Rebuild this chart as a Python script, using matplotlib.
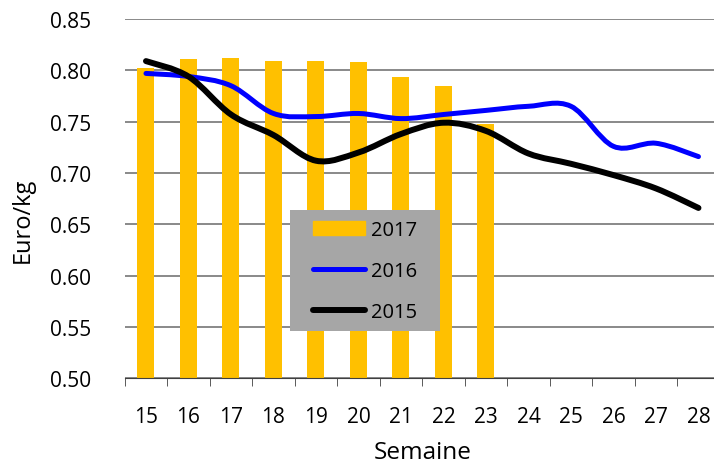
import matplotlib
matplotlib.use("Agg")
import matplotlib.pyplot as plt
from matplotlib.path import Path
from matplotlib.patches import PathPatch, Patch, Rectangle
from matplotlib.lines import Line2D

# weeks and prices (Euro/kg)
semaines = [15, 16, 17, 18, 19, 20, 21, 22, 23, 24, 25, 26, 27, 28]
prix_2017 = [0.802, 0.811, 0.812, 0.809, 0.809, 0.808, 0.794, 0.785, 0.748]
prix_2016 = [0.797, 0.794, 0.785, 0.758, 0.755, 0.758, 0.753, 0.757, 0.761,
             0.765, 0.765, 0.726, 0.729, 0.716]
prix_2015 = [0.809, 0.794, 0.757, 0.737, 0.712, 0.720, 0.738, 0.749, 0.741,
             0.719, 0.709, 0.698, 0.685, 0.666]
y_ticks = [0.50, 0.55, 0.60, 0.65, 0.70, 0.75, 0.80, 0.85]

plt.rcParams['font.family'] = ['Open Sans', 'DejaVu Sans']
plt.rcParams['font.size'] = 15


def smooth_path(xs, ys):
    # Excel-like smoothed line: cubic bezier segments through every point
    pts = list(zip(xs, ys))
    verts = [pts[0]]
    codes = [Path.MOVETO]
    n = len(pts)
    for i in range(n - 1):
        p0 = pts[i - 1] if i > 0 else pts[i]
        p1 = pts[i]
        p2 = pts[i + 1]
        p3 = pts[i + 2] if i + 2 < n else pts[i + 1]
        c1 = (p1[0] + (p2[0] - p0[0]) / 6, p1[1] + (p2[1] - p0[1]) / 6)
        c2 = (p2[0] - (p3[0] - p1[0]) / 6, p2[1] - (p3[1] - p1[1]) / 6)
        verts += [c1, c2, p2]
        codes += [Path.CURVE4] * 3
    return Path(verts, codes)


fig = plt.figure(figsize=(7.14, 4.64), dpi=100)
ax = fig.add_axes([0.1747, 0.1823, 0.8333, 0.7746])

x_idx = list(range(len(semaines)))
ax.bar(x_idx[:len(prix_2017)], prix_2017, width=0.4, color='#FFC000', zorder=2)

for vals, col, lw in [(prix_2016, '#0000FF', 3.6), (prix_2015, '#000000', 4.3)]:
    ax.add_patch(PathPatch(smooth_path(x_idx, vals), facecolor='none',
                           edgecolor=col, lw=lw, capstyle='round', zorder=3))

ax.set_xlim(-0.5, len(semaines) - 0.5)
ax.set_ylim(0.50, 0.85)
ax.set_yticks(y_ticks)
ax.set_yticklabels([f"{v:.2f}" for v in y_ticks])
ax.set_xticks(x_idx)
ax.set_xticklabels([str(s) for s in semaines])
ax.set_xticks([i - 0.5 for i in range(len(semaines) + 1)], minor=True)

ax.grid(axis='y', color='#808080', lw=1.3, zorder=1)
for s in ['left', 'right', 'top']:
    ax.spines[s].set_visible(False)
ax.spines['bottom'].set_color('#404040')
ax.tick_params(axis='y', length=0, pad=24)
ax.tick_params(axis='x', which='major', length=0, pad=20)
ax.tick_params(axis='x', which='minor', length=6, color='#404040')

ax.set_ylabel("Euro/kg", fontsize=17)
ax.yaxis.set_label_coords(-0.151, 0.4435)
ax.set_xlabel("Semaine", fontsize=17.5)
ax.xaxis.set_label_coords(0.5, -0.171)

# grey legend box
ax.add_patch(Rectangle((0.277, 0.132), 0.253, 0.337, transform=ax.transAxes,
                       facecolor='#A6A6A6', edgecolor='none', zorder=4))

handles = [Patch(color='#FFC000'),
           Line2D([], [], color='#0000FF', lw=3.6, solid_capstyle='round'),
           Line2D([], [], color='#000000', lw=4.3, solid_capstyle='round')]
leg = ax.legend(handles, ['2017', '2016', '2015'], loc='center',
                bbox_to_anchor=(0.4035, 0.299), frameon=False, fontsize=14.5,
                handlelength=2.6, handletextpad=0.3, labelspacing=1.05,
                borderpad=0.7, borderaxespad=0)
leg.set_zorder(5)

fig.savefig("out.png", dpi=100)
